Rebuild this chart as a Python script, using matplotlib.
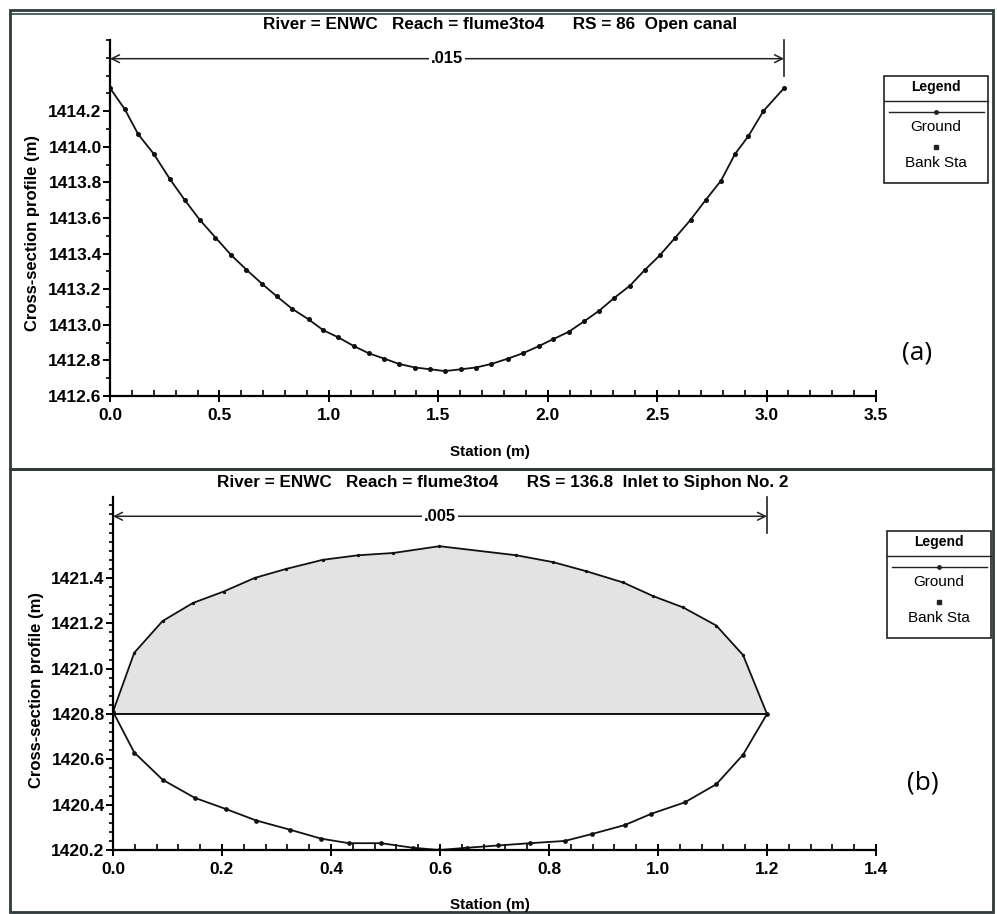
import numpy as np
import matplotlib.pyplot as plt
from matplotlib.patches import Rectangle
from matplotlib.lines import Line2D
from matplotlib.ticker import MultipleLocator, FormatStrFormatter

# --- data ---
# (a) open canal, RS = 86
sta_a = [0.000, 0.068, 0.129, 0.200, 0.273, 0.342, 0.410, 0.482, 0.555, 0.623,
         0.695, 0.762, 0.832, 0.908, 0.974, 1.042, 1.115, 1.182, 1.253, 1.321,
         1.394, 1.464, 1.530, 1.602, 1.671, 1.743, 1.818, 1.886, 1.959, 2.026,
         2.095, 2.167, 2.236, 2.303, 2.376, 2.445, 2.512, 2.583, 2.653, 2.721,
         2.792, 2.856, 2.917, 2.985, 3.080]
elev_a = [1414.33, 1414.21, 1414.07, 1413.96, 1413.82, 1413.70, 1413.59, 1413.49, 1413.39, 1413.31,
          1413.23, 1413.16, 1413.09, 1413.03, 1412.97, 1412.93, 1412.88, 1412.84, 1412.81, 1412.78,
          1412.76, 1412.75, 1412.74, 1412.75, 1412.76, 1412.78, 1412.81, 1412.84, 1412.88, 1412.92,
          1412.96, 1413.02, 1413.08, 1413.15, 1413.22, 1413.31, 1413.39, 1413.49, 1413.59, 1413.70,
          1413.81, 1413.96, 1414.06, 1414.20, 1414.33]
n_a = ".015"
title_a = "River = ENWC   Reach = flume3to4      RS = 86  Open canal"

# (b) siphon inlet, RS = 136.8
sta_b_low = [0.000, 0.039, 0.091, 0.150, 0.208, 0.263, 0.324, 0.382, 0.433, 0.492,
             0.550, 0.599, 0.650, 0.707, 0.765, 0.829, 0.878, 0.939, 0.988, 1.049,
             1.107, 1.156, 1.200]
elev_b_low = [1420.81, 1420.63, 1420.51, 1420.43, 1420.38, 1420.33, 1420.29, 1420.25, 1420.23, 1420.23,
              1420.21, 1420.20, 1420.21, 1420.22, 1420.23, 1420.24, 1420.27, 1420.31, 1420.36, 1420.41,
              1420.49, 1420.62, 1420.80]
sta_b_up = [0.000, 0.039, 0.091, 0.147, 0.203, 0.260, 0.318, 0.385, 0.450, 0.514,
            0.599, 0.740, 0.807, 0.868, 0.936, 0.991, 1.046, 1.107, 1.156, 1.200]
elev_b_up = [1420.81, 1421.07, 1421.21, 1421.29, 1421.34, 1421.40, 1421.44, 1421.48, 1421.50, 1421.51,
             1421.54, 1421.50, 1421.47, 1421.43, 1421.38, 1421.32, 1421.27, 1421.19, 1421.06, 1420.80]
ws_b = 1420.80
n_b = ".005"
title_b = "River = ENWC   Reach = flume3to4      RS = 136.8  Inlet to Siphon No. 2"

W, H = 997, 914
plt.rcParams['font.family'] = ['Liberation Sans', 'DejaVu Sans']
fig = plt.figure(figsize=(W / 100, H / 100), dpi=100)
fig.patch.set_facecolor('white')


def fx(px):
    return px / W


def fy(py):
    return 1 - py / H


def box(x0, y0, x1, y1, lw=1.2, color='#222'):
    fig.add_artist(Rectangle((fx(x0), fy(y1)), fx(x1) - fx(x0), fy(y0) - fy(y1),
                             transform=fig.transFigure, fill=False, lw=lw, ec=color))


def legend_box(x0, y0):
    x1, y1 = x0 + 104, y0 + 107
    box(x0, y0, x1, y1, lw=1.2)
    fig.add_artist(Line2D([fx(x0), fx(x1)], [fy(y0 + 25)] * 2, transform=fig.transFigure, color='#222', lw=1.0))
    cx = (x0 + x1) / 2
    fig.text(fx(cx), fy(y0 + 11), "Legend", ha='center', va='center', fontsize=10, fontweight='bold')
    fig.add_artist(Line2D([fx(x0 + 5), fx(x1 - 4)], [fy(y0 + 36)] * 2, transform=fig.transFigure, color='#222', lw=1.0))
    fig.add_artist(Line2D([fx(cx)], [fy(y0 + 36)], transform=fig.transFigure, marker='o', ms=2.5, color='#222'))
    fig.text(fx(cx), fy(y0 + 51), "Ground", ha='center', va='center', fontsize=11)
    fig.add_artist(Line2D([fx(cx)], [fy(y0 + 71)], transform=fig.transFigure, marker='s', ms=2.2, color='#222'))
    fig.text(fx(cx), fy(y0 + 87), "Bank Sta", ha='center', va='center', fontsize=11)


def style_axes(ax, xmajor, xminor, ymajor, yminor):
    for s in ('top', 'right'):
        ax.spines[s].set_visible(False)
    for s in ('left', 'bottom'):
        ax.spines[s].set_linewidth(1.6)
    ax.xaxis.set_major_locator(MultipleLocator(xmajor))
    ax.xaxis.set_minor_locator(MultipleLocator(xminor))
    ax.yaxis.set_major_locator(MultipleLocator(ymajor))
    ax.yaxis.set_minor_locator(MultipleLocator(yminor))
    ax.xaxis.set_major_formatter(FormatStrFormatter('%.1f'))
    ax.yaxis.set_major_formatter(FormatStrFormatter('%.1f'))
    ax.tick_params(axis='x', which='major', direction='inout', length=8, width=1.4,
                   labelsize=12.5, pad=5)
    ax.tick_params(axis='x', which='minor', direction='in', length=4, width=1.2)
    ax.tick_params(axis='y', which='major', direction='out', length=5, width=1.4,
                   labelsize=12.5, pad=1)
    ax.tick_params(axis='y', which='minor', direction='out', length=3, width=1.2)
    for lab in ax.get_xticklabels() + ax.get_yticklabels():
        lab.set_fontweight('bold')


def dimension(ax, x_end, y, label, y_top, y_bot):
    ax.annotate('', xy=(0, y), xytext=(x_end, y),
                arrowprops=dict(arrowstyle='<->', lw=1.1, color='#222',
                                shrinkA=0, shrinkB=0, mutation_scale=14),
                annotation_clip=False)
    ax.text(x_end / 2, y, label, ha='center', va='center', fontsize=12, fontweight='bold',
            bbox=dict(boxstyle='square,pad=0.1', fc='white', ec='none'), clip_on=False)
    ax.plot([x_end, x_end], [y_bot, y_top], color='#222', lw=1.2, clip_on=False)


# --- panel (a) ---
ax1 = fig.add_axes([fx(110), fy(396), fx(876) - fx(110), fy(40) - fy(396)])
ax1.plot(sta_a, elev_a, color='#111', lw=1.3, marker='o', ms=2.6)
ax1.set_xlim(0, 3.5)
ax1.set_ylim(1412.6, 1414.6)
style_axes(ax1, 0.5, 0.1, 0.2, 0.1)
ax1.set_yticks(np.arange(1412.6, 1414.21, 0.2))
dimension(ax1, sta_a[-1], 1414.495, n_a, 1414.6, 1414.4)

fig.text(fx(500), fy(25), title_a, ha='center', va='center', fontsize=12.3, fontweight='bold')
fig.text(fx(490), fy(452), "Station (m)", ha='center', va='center', fontsize=11, fontweight='bold')
fig.text(fx(33), fy(233), "Cross-section profile (m)", ha='center', va='center',
         rotation=90, fontsize=12, fontweight='bold')
fig.text(fx(917), fy(353), "(a)", ha='center', va='center', fontsize=19,
         family=['Open Sans', 'DejaVu Sans'])
legend_box(884, 76)

# --- panel (b) ---
ax2 = fig.add_axes([fx(113), fy(850), fx(876) - fx(113), fy(497) - fy(850)])
ax2.fill_between(sta_b_up, ws_b, elev_b_up, color='#e2e3e2', lw=0)
ax2.plot([sta_b_up[0], sta_b_up[-1]], [ws_b, ws_b], color='#111', lw=1.4)
ax2.plot(sta_b_up, elev_b_up, color='#111', lw=1.3, marker='o', ms=1.4)
ax2.plot(sta_b_low, elev_b_low, color='#111', lw=1.3, marker='o', ms=2.4)
ax2.set_xlim(0, 1.4)
ax2.set_ylim(1420.2, 1421.757)
style_axes(ax2, 0.2, 0.04, 0.2, 0.04)
ax2.set_yticks(np.arange(1420.2, 1421.41, 0.2))
dimension(ax2, sta_b_up[-1], 1421.672, n_b, 1421.757, 1421.60)

fig.text(fx(503), fy(482), title_b, ha='center', va='center', fontsize=12.3, fontweight='bold')
fig.text(fx(490), fy(905), "Station (m)", ha='center', va='center', fontsize=11, fontweight='bold')
fig.text(fx(37), fy(690), "Cross-section profile (m)", ha='center', va='center',
         rotation=90, fontsize=12, fontweight='bold')
fig.text(fx(923), fy(783), "(b)", ha='center', va='center', fontsize=19,
         family=['Open Sans', 'DejaVu Sans'])
legend_box(887, 531)

# --- panel frames ---
box(10, 10, 993, 469, lw=2.0, color='#2e3b38')
fig.add_artist(Line2D([fx(10), fx(993)], [fy(14)] * 2, transform=fig.transFigure, color='#2e4a44', lw=1.2))
box(10, 469, 993, 912, lw=2.0, color='#2e3b38')

fig.savefig("out.png", dpi=100)
